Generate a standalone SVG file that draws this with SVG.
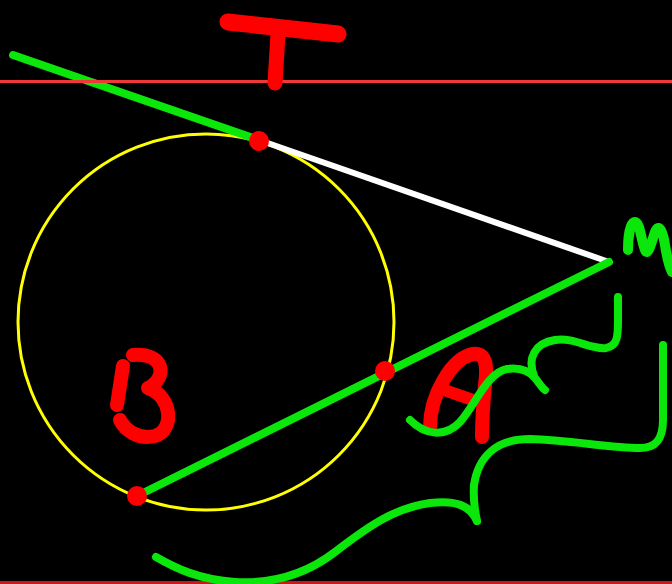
<svg xmlns="http://www.w3.org/2000/svg" width="672" height="584" viewBox="0 0 672 584">
<style>
.g{fill:none;stroke:#0be60b;stroke-linecap:round;stroke-linejoin:round}
.r{fill:none;stroke:#ff0000;stroke-linecap:round;stroke-linejoin:round}
.dot{fill:#ff0000}
</style>
<rect x="0" y="0" width="672" height="584" fill="#000"/>
<g id="circle"><circle cx="206" cy="322" r="188" fill="none" stroke="#ffff00" stroke-width="3"/></g>
<g id="connectors">
<line class="g" x1="13" y1="55" x2="259" y2="140" stroke-width="8"/>
<line x1="259" y1="140" x2="609" y2="262" stroke="#ffffff" stroke-width="6" stroke-linecap="round"/>
<line class="g" x1="609" y1="262" x2="137" y2="496" stroke-width="8"/>
</g>
<g id="lines">
<rect x="0" y="80" width="672" height="3" fill="#f03838"/>
<rect x="0" y="581" width="672" height="3" fill="#c81818"/>
</g>
<g id="point-T"><circle class="dot" cx="259" cy="141" r="10"/></g>
<g id="point-A"><circle class="dot" cx="385" cy="371" r="10"/></g>
<g id="point-B"><circle class="dot" cx="137" cy="496" r="10"/></g>
<g id="label-T">
<path class="r" d="M228 22 L338 34" stroke-width="17"/>
<path class="r" d="M278 34 L275 83" stroke-width="15"/>
</g>
<g id="label-A">
<path class="r" d="M430 427 C430 395 452 358 473 354 C488 352 487 370 485 385 C483 405 482 420 482 437" stroke-width="14"/>
<path class="r" d="M447 391 L473 400" stroke-width="12"/>
</g>
<g id="label-B">
<path class="r" d="M123 366 L117 405" stroke-width="14"/>
<path class="r" d="M133 355 C165 352 168 378 148 388 C172 396 175 430 155 436 C138 440 125 430 120 420" stroke-width="14"/>
</g>
<g id="label-M">
<path class="g" d="M628 250 C628 238 630 222 635 222 C640 222 641 240 645 250 C648 258 652 240 655 232 C659 222 663 232 665 245 C667 258 669 266 672 272" stroke-width="10"/>
</g>
<g id="brace-small">
<path class="g" d="M410 420 C425 435 445 438 460 422 C475 405 488 372 507 369 C522 367 530 372 535 378 C540 384 542 388 545 390" stroke-width="8"/>
<path class="g" d="M534 376 C527 358 535 343 555 340 C575 337 590 350 606 348 C618 346 618 335 618 320 L618 297" stroke-width="8"/>
</g>
<g id="brace-large">
<path class="g" d="M663 345 L663 420 C663 440 655 448 640 448 C610 448 570 440 530 439 C495 439 478 458 474 485 C473 500 475 512 477 521" stroke-width="8"/>
<path class="g" d="M477 521 C470 505 455 500 430 503 C395 508 370 525 335 552 C305 575 270 584 235 582 C200 580 175 568 156 557" stroke-width="8"/>
</g>
</svg>
